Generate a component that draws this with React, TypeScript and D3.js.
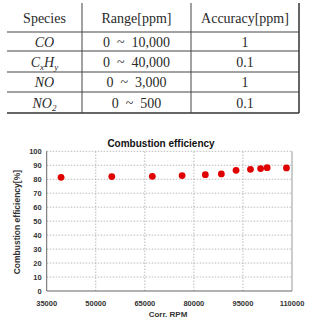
import React from 'react';
import * as d3 from 'd3';

// analyzer spec table
const species = ['CO', 'CxHy', 'NO', 'NO2'];
const ranges = ['0  ~  10,000', '0  ~  40,000', '0  ~  3,000', '0  ~  500'];
const accuracy = ['1', '0.1', '1', '0.1'];
const headers = ['Species', 'Range[ppm]', 'Accuracy[ppm]'];

// combustion efficiency vs corrected rpm
const rpm = [39400, 54900, 67300, 76400, 83500, 88400, 92900, 97300, 100400, 102400, 108300];
const efficiency = [81.4, 81.9, 82.1, 82.6, 83.3, 83.8, 86.4, 87.1, 87.6, 88.3, 88.1];
const xTicks = [35000, 50000, 65000, 80000, 95000, 110000];
const yTicks = [0, 10, 20, 30, 40, 50, 60, 70, 80, 90, 100];

const W = 317;
const H = 321;

const serif = '"Liberation Serif", "Times New Roman", serif';
const sans = '"Liberation Sans", Arial, sans-serif';

// table geometry
const colEdges = [7, 82, 191, 299];
const rowEdges = [3, 32, 51, 72, 92, 113];

const SpeciesLabel = ({ name, x, y }: { name: string; x: number; y: number }) => {
    const sub = { fontSize: 9 };
    if (name === 'CxHy') {
        return (
            <text x={x} y={y} textAnchor="middle" fontStyle="italic">
                C<tspan dy={3} style={sub}>x</tspan>
                <tspan dy={-3}>H</tspan>
                <tspan dy={3} style={sub}>y</tspan>
            </text>
        );
    }
    if (name === 'NO2') {
        return (
            <text x={x} y={y} textAnchor="middle" fontStyle="italic">
                NO<tspan dy={3} style={sub}>2</tspan>
            </text>
        );
    }
    return <text x={x} y={y} textAnchor="middle" fontStyle="italic">{name}</text>;
};

const SpecTable = () => {
    const mid = (i: number) => (colEdges[i] + colEdges[i + 1]) / 2;
    const rowMid = (i: number) => (rowEdges[i] + rowEdges[i + 1]) / 2;
    return (
        <g fontFamily={serif} fontSize={14} fill="#2a2a2a">
            {rowEdges.slice(1, -1).map((y, i) => (
                <line key={i} x1={colEdges[0]} x2={colEdges[3]} y1={y} y2={y} stroke="#444" strokeWidth={1} />
            ))}
            <line x1={colEdges[0]} x2={colEdges[3]} y1={rowEdges[5]} y2={rowEdges[5]} stroke="#333" strokeWidth={1.5} />
            {colEdges.slice(1, 3).map((x, i) => (
                <line key={i} x1={x} x2={x} y1={rowEdges[0]} y2={rowEdges[5]} stroke="#444" strokeWidth={1} />
            ))}
            <line x1={colEdges[3]} x2={colEdges[3]} y1={rowEdges[0]} y2={rowEdges[5]} stroke="#333" strokeWidth={1.5} />
            {headers.map((h, i) => (
                <text key={h} x={mid(i)} y={rowMid(0) + 5} textAnchor="middle">{h}</text>
            ))}
            {species.map((s, r) => (
                <g key={s}>
                    <SpeciesLabel name={s} x={mid(0)} y={rowMid(r + 1) + 5} />
                    <text x={mid(1)} y={rowMid(r + 1) + 5} textAnchor="middle" style={{ whiteSpace: 'pre' }}>{ranges[r]}</text>
                    <text x={mid(2)} y={rowMid(r + 1) + 5} textAnchor="middle">{accuracy[r]}</text>
                </g>
            ))}
        </g>
    );
};

const EfficiencyChart = () => {
    const x = d3.scaleLinear().domain([35000, 110000]).range([46.7, 292]);
    const y = d3.scaleLinear().domain([0, 100]).range([291, 151.3]);
    const [x0, x1] = x.range();
    const [y0, y1] = y.range();
    return (
        <g fontFamily={sans} fontWeight="bold">
            <text x={161} y={146.5} textAnchor="middle" fontSize={10} fill="#111">Combustion efficiency</text>
            {yTicks.slice(1).map(t => (
                <line key={t} x1={x0} x2={x1} y1={y(t)} y2={y(t)} stroke="#aaa" strokeWidth={0.8} strokeDasharray="1.5,1.5" />
            ))}
            {xTicks.slice(1, -1).map(t => (
                <line key={t} x1={x(t)} x2={x(t)} y1={y0} y2={y1} stroke="#aaa" strokeWidth={0.8} strokeDasharray="1.5,1.5" />
            ))}
            <line x1={x1} x2={x1} y1={y0} y2={y1} stroke="#999" strokeWidth={1} />
            <line x1={x0} x2={x0} y1={y0} y2={y1} stroke="#666" strokeWidth={1} />
            <line x1={x0} x2={x1} y1={y0} y2={y0} stroke="#666" strokeWidth={1} />
            {yTicks.map(t => (
                <text key={t} x={x0 - 5} y={y(t) + 2.7} textAnchor="end" fontSize={7.5} fill="#333">{t}</text>
            ))}
            {xTicks.map(t => (
                <text key={t} x={x(t)} y={y0 + 15} textAnchor="middle" fontSize={7.5} fill="#333">{t}</text>
            ))}
            <text x={168} y={317} textAnchor="middle" fontSize={8} fill="#333">Corr. RPM</text>
            <text transform={`translate(20,${(y0 + y1) / 2 + 1}) rotate(-90)`} textAnchor="middle" fontSize={8.5} fill="#333">
                Combustion efficiency[%]
            </text>
            {rpm.map((r, i) => (
                <circle key={i} cx={x(r)} cy={y(efficiency[i])} r={3.4} fill="#e00000" />
            ))}
        </g>
    );
};

export default function App() {
    return (
        <svg width={W} height={H} style={{ position: 'absolute', left: 0, top: 0, background: '#fff' }}>
            <SpecTable />
            <EfficiencyChart />
        </svg>
    );
}
